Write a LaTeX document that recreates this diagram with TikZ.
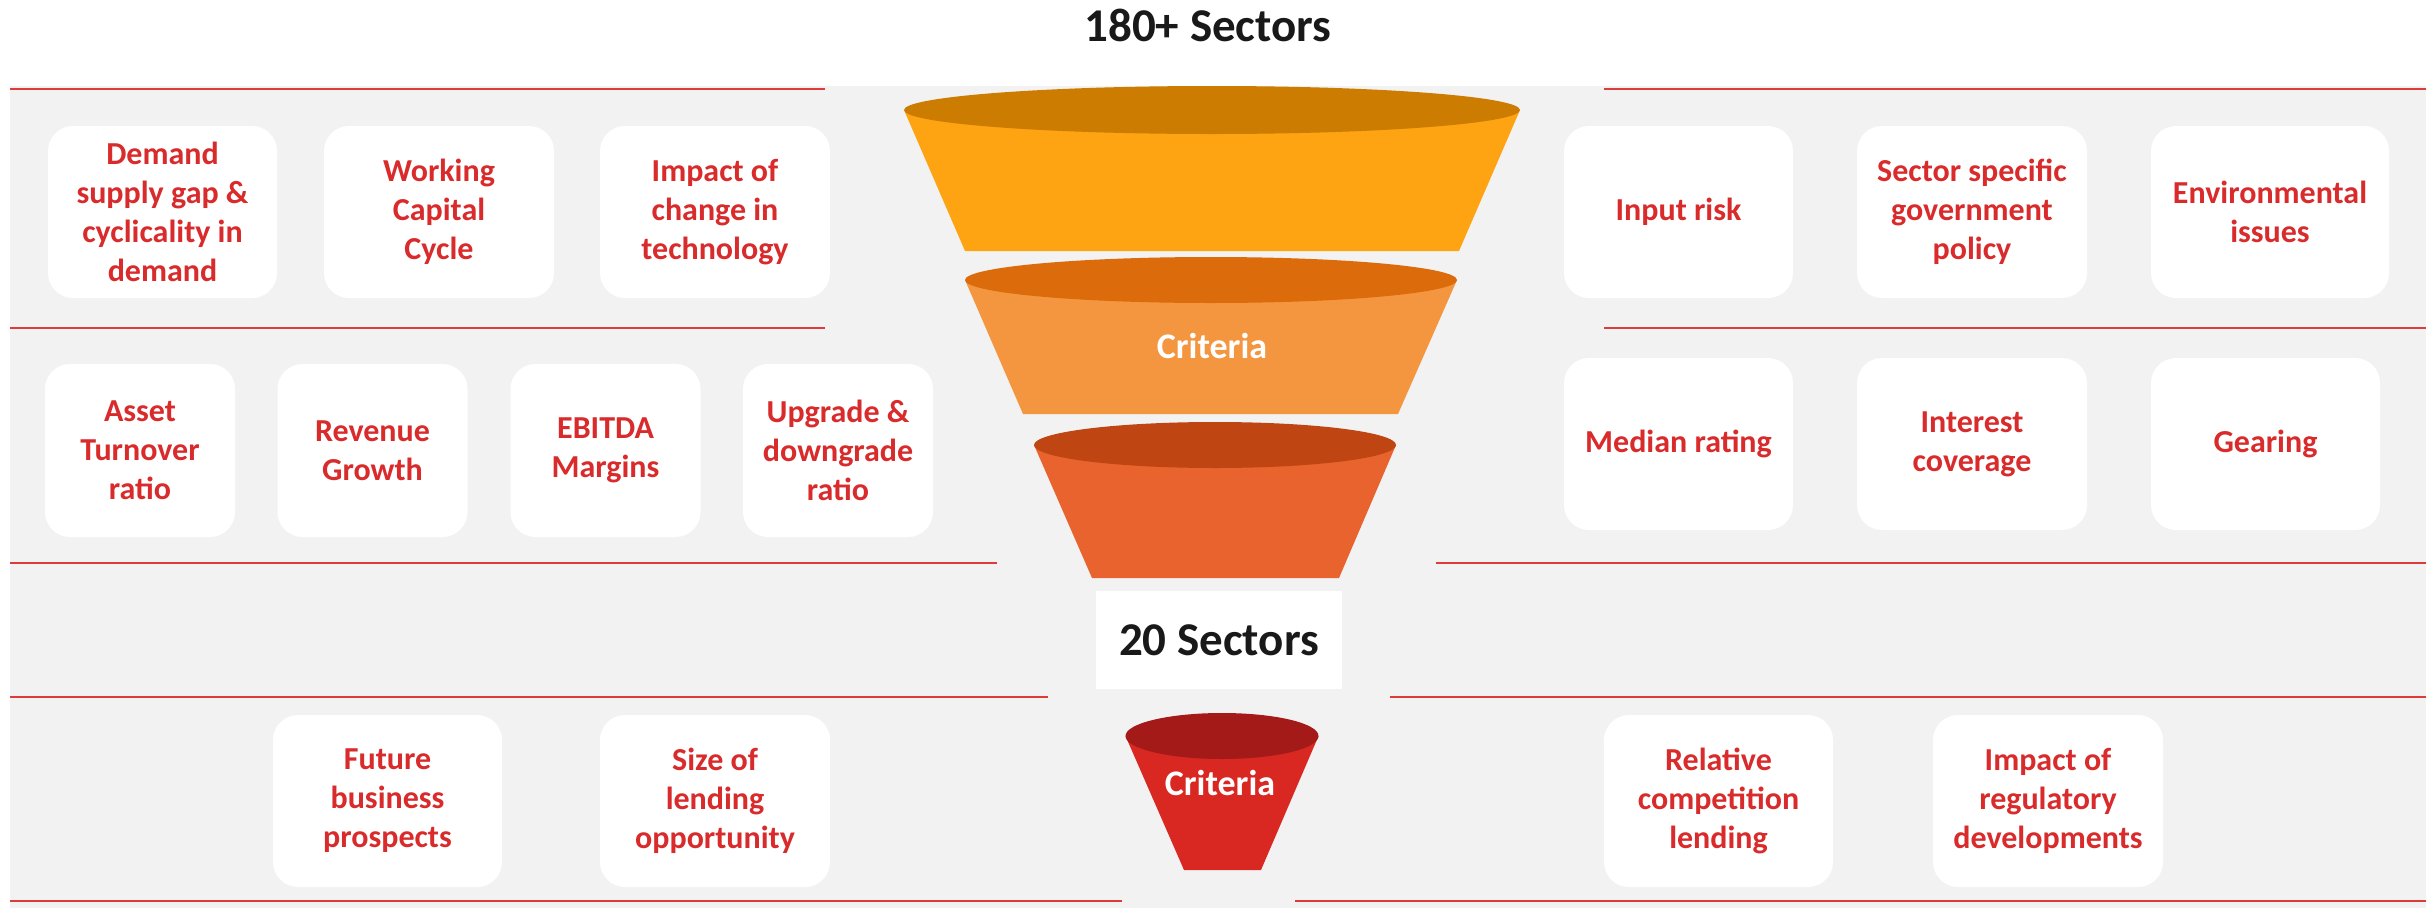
\documentclass[tikz,border=0pt]{standalone}
\usepackage{fontspec}
\setmainfont{Carlito}
\definecolor{bggray}{HTML}{F2F2F2}
\definecolor{sepred}{HTML}{DE3B3B}
\definecolor{txtred}{HTML}{D92B2B}
\definecolor{fAe}{HTML}{CC7C00}\definecolor{fAb}{HTML}{FEA312}
\definecolor{fBe}{HTML}{DC6C0B}\definecolor{fBb}{HTML}{F4963F}
\definecolor{fCe}{HTML}{BF4612}\definecolor{fCb}{HTML}{E8632D}
\definecolor{fDe}{HTML}{A31A18}\definecolor{fDb}{HTML}{D92722}
\tikzset{
  card/.style={fill=white, draw=none, rounded corners=25pt, inner sep=0pt, align=center,
    text=txtred, font=\fontsize{32}{39}\selectfont\bfseries, minimum height=172pt},
  wide/.style={card, minimum width=230pt},
  narrow/.style={card, minimum width=190pt},
  sepline/.style={draw=sepred, line width=2.5pt},
  crit/.style={text=white, font=\fontsize{36}{40}\selectfont\bfseries},
  bigtitle/.style={text=black!90, font=\fontsize{47}{52}\selectfont\bfseries}
}
\newcommand{\funnelpart}[8]{% cx cy rx ry bottomy bottomleft bottomright colorprefix
  \fill[#8b] (#1-#3,#2) -- (#6,#5) -- (#7,#5) -- (#1+#3,#2) -- cycle;
  \fill[#8e] (#1,#2) ellipse [x radius=#3, y radius=#4];
}
\begin{document}
\begin{tikzpicture}[x=1pt,y=-1pt]
\useasboundingbox (0,0) rectangle (2433,908);
\fill[white] (0,0) rectangle (2433,908);
\fill[bggray] (10,86) rectangle (2426,908);

% title
\node[bigtitle, anchor=base] (title) at (1208,41) {180+ Sectors};

% separator lines
\draw[sepline] (10,89) -- (825,89);
\draw[sepline] (1604,89) -- (2426,89);
\draw[sepline] (10,328) -- (825,328);
\draw[sepline] (1604,328) -- (2426,328);
\draw[sepline] (10,563) -- (997,563);
\draw[sepline] (1436,563) -- (2426,563);
\draw[sepline] (10,697) -- (1048,697);
\draw[sepline] (1390,697) -- (2426,697);
\draw[sepline] (10,901) -- (1122,901);
\draw[sepline] (1295,901) -- (2426,901);

% funnel
\funnelpart{1212}{110}{308}{24}{251}{965}{1459}{fA}
\funnelpart{1211}{280}{246}{23}{414}{1023}{1398}{fB}
\funnelpart{1215}{445}{181}{23}{578}{1092}{1339}{fC}
\funnelpart{1222}{736}{96.5}{23}{870}{1184}{1261}{fD}
\node[crit] (crit1) at (1212,346) {Criteria};
\node[crit] (crit2) at (1220,783) {Criteria};

% 20 sectors
\node[bigtitle, fill=white, minimum width=246pt, minimum height=98pt, inner sep=0pt] (twenty) at (1219,640) {20 Sectors};

% row 1 left
\node[wide, minimum width=229pt] (d1) at (162.5,212) {Demand\\supply gap \&\\cyclicality in\\demand};
\node[wide] (d2) at (439,212) {Working\\Capital\\Cycle};
\node[wide] (d3) at (715,212) {Impact of\\change in\\technology};
% row 1 right
\node[wide, minimum width=229pt] (r1) at (1678.5,212) {Input risk};
\node[wide] (r2) at (1972,212) {Sector specific\\government\\policy};
\node[wide, minimum width=238pt] (r3) at (2270,212) {Environmental\\issues};
% row 2 left
\node[narrow, minimum height=173pt] (a1) at (140,450.5) {Asset\\Turnover\\ratio};
\node[narrow, minimum height=173pt] (a2) at (372.5,450.5) {Revenue\\Growth};
\node[narrow, minimum height=173pt] (a3) at (605.5,450.5) {EBITDA\\Margins};
\node[narrow, minimum height=173pt] (a4) at (838,450.5) {Upgrade \&\\downgrade\\ratio};
% row 2 right
\node[wide, minimum width=229pt] (m1) at (1678.5,444) {Median rating};
\node[wide] (m2) at (1972,444) {Interest\\coverage};
\node[wide, minimum width=229pt] (m3) at (2265.5,444) {Gearing};
% row 3
\node[wide, minimum width=229pt] (f1) at (387.5,801) {Future\\business\\prospects};
\node[wide] (f2) at (715,801) {Size of\\lending\\opportunity};
\node[wide, minimum width=229pt] (g1) at (1718.5,801) {Relative\\competition\\lending};
\node[wide] (g2) at (2048,801) {Impact of\\regulatory\\developments};
\end{tikzpicture}
\end{document}
